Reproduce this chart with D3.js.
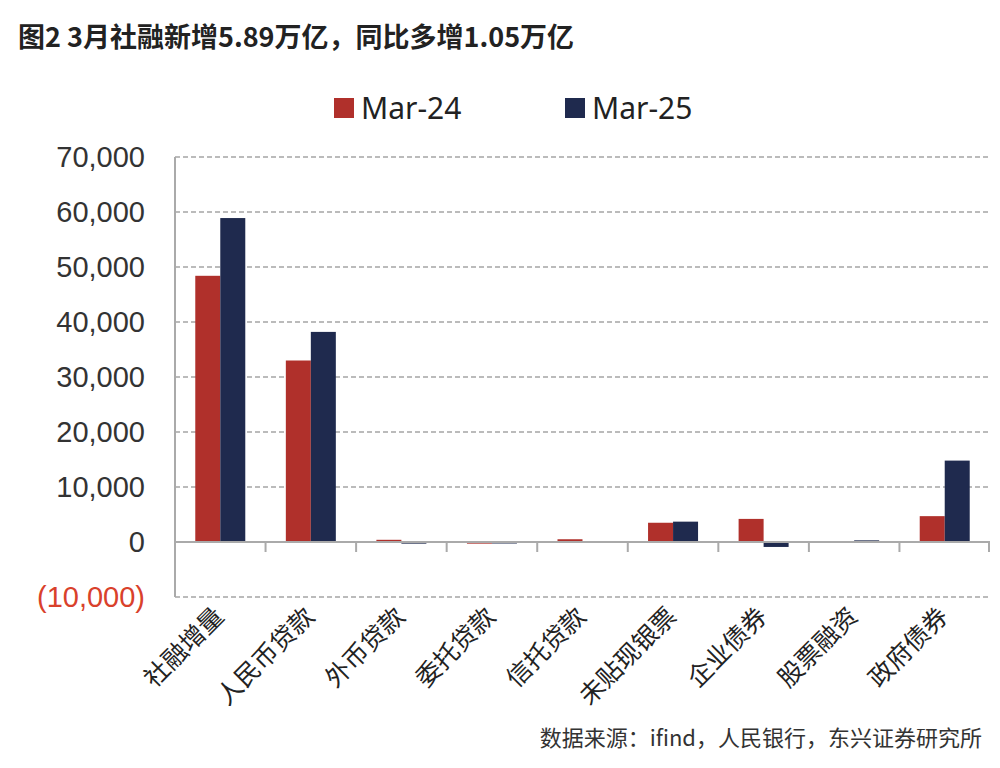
<!DOCTYPE html>
<html><head><meta charset="utf-8">
<script src="https://cdn.jsdelivr.net/npm/d3@7"></script>
<style>body{margin:0;background:#fff;font-family:"Noto Sans CJK SC","Noto Sans",sans-serif}</style>
</head><body><svg id="c" width="1000" height="768"></svg>
<script>
const categories = ["社融增量","人民币贷款","外币贷款","委托贷款","信托贷款","未贴现银票","企业债券","股票融资","政府债券"];
const mar24 = [48400, 33000, 400, -300, 500, 3500, 4200, 100, 4700];
const mar25 = [58900, 38200, -300, -50, 100, 3700, -900, 300, 14800];
const yTicks = [-10000, 0, 10000, 20000, 30000, 40000, 50000, 60000, 70000];
const colors = {mar24: "#b0302b", mar25: "#1f2a4e"};

const svg = d3.select("#c");
const plotL = 175, plotR = 990, plotT = 157, plotB = 597;
const x = d3.scaleBand().domain(categories).range([plotL, plotR]);
const y = d3.scaleLinear().domain([-10000, 70000]).range([plotB, plotT]);
const bw = 25;

svg.append("text").attr("x", 18).attr("y", 47).attr("font-size", 27).attr("font-weight", "bold").attr("fill", "#222")
  .text("图2  3月社融新增5.89万亿，同比多增1.05万亿");

// grid
yTicks.filter(d => d !== 0).forEach(d => {
  svg.append("line").attr("x1", plotL).attr("x2", plotR).attr("y1", y(d)).attr("y2", y(d))
    .attr("stroke", "#bbb").attr("stroke-width", 2).attr("stroke-dasharray", "5 3");
});
svg.append("line").attr("x1", plotL).attr("x2", plotL).attr("y1", plotT).attr("y2", plotB).attr("stroke", "#aaa").attr("stroke-width", 2);

// y labels
yTicks.forEach(d => {
  svg.append("text").attr("x", 145).attr("y", y(d) + 10).attr("text-anchor", "end").attr("font-size", 29)
    .attr("font-family", "Liberation Sans, Arial, sans-serif")
    .attr("fill", d < 0 ? "#d9412b" : "#333")
    .text(d < 0 ? "(" + d3.format(",")(-d) + ")" : d3.format(",")(d));
});

// bars
[[mar24, colors.mar24, -bw], [mar25, colors.mar25, 0]].forEach(([vals, col, off]) => {
  svg.append("g").selectAll("rect").data(vals).join("rect")
    .attr("x", (d, i) => x(categories[i]) + x.bandwidth() / 2 + off)
    .attr("width", bw)
    .attr("y", d => y(Math.max(0, d)))
    .attr("height", d => Math.max(1.5, Math.abs(y(d) - y(0))))
    .attr("fill", col);
});

// zero line and ticks
svg.append("line").attr("x1", plotL).attr("x2", plotR).attr("y1", y(0)).attr("y2", y(0)).attr("stroke", "#aaa").attr("stroke-width", 2);
categories.forEach(c => {
  const xx = x(c);
  svg.append("line").attr("x1", xx).attr("x2", xx).attr("y1", y(0)).attr("y2", y(0) + 10).attr("stroke", "#aaa").attr("stroke-width", 2);
});
svg.append("line").attr("x1", plotR - 1).attr("x2", plotR - 1).attr("y1", y(0)).attr("y2", y(0) + 10).attr("stroke", "#aaa").attr("stroke-width", 2);

// x labels rotated
categories.forEach(c => {
  const cx = x(c) + x.bandwidth() / 2 + 5;
  svg.append("text").attr("transform", `translate(${cx},${618}) rotate(-45)`)
    .attr("text-anchor", "end").attr("font-size", 25).attr("fill", "#222").text(c);
});

// legend
svg.append("rect").attr("x", 334).attr("y", 98).attr("width", 20).attr("height", 20).attr("fill", colors.mar24);
svg.append("text").attr("x", 361).attr("y", 119).attr("font-size", 30).attr("fill", "#222").attr("font-family", "Noto Sans, sans-serif").text("Mar-24");
svg.append("rect").attr("x", 565).attr("y", 98).attr("width", 20).attr("height", 20).attr("fill", colors.mar25);
svg.append("text").attr("x", 592).attr("y", 119).attr("font-size", 30).attr("fill", "#222").attr("font-family", "Noto Sans, sans-serif").text("Mar-25");

svg.append("text").attr("x", 982).attr("y", 746).attr("text-anchor", "end").attr("font-size", 22).attr("fill", "#333")
  .text("数据来源：ifind，人民银行，东兴证券研究所");
</script></body></html>
